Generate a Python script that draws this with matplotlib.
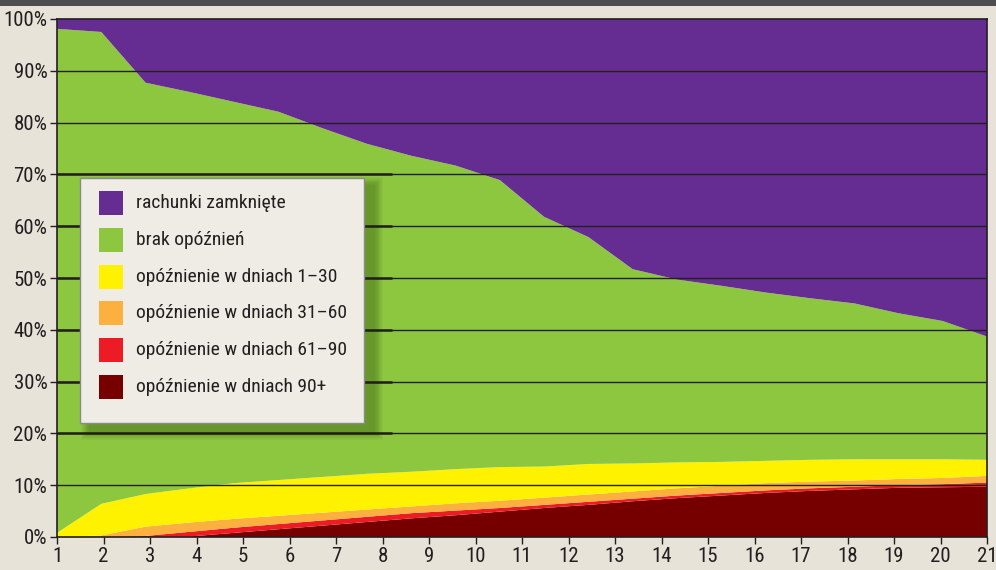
import numpy as np
import matplotlib
matplotlib.use("Agg")
import matplotlib.pyplot as plt
from matplotlib.patches import Rectangle
from matplotlib import font_manager

# ---- data: share of accounts (%) per status, 22 observations over the period ----
delay_90_plus = [0, 0, 0, 0.1, 0.8, 1.5, 2.2, 2.9, 3.6, 4.2, 4.9, 5.6, 6.2, 6.9, 7.5, 8.0,
                 8.5, 8.9, 9.2, 9.5, 9.6, 9.7]
delay_61_90 = [0, 0, 0.2, 0.9, 1.0, 1.0, 1.0, 1.0, 1.0, 0.9, 0.7, 0.6, 0.6, 0.5, 0.5, 0.5,
               0.5, 0.5, 0.5, 0.5, 0.6, 0.8]
delay_31_60 = [0, 0.3, 1.8, 1.8, 1.7, 1.6, 1.5, 1.4, 1.3, 1.4, 1.4, 1.4, 1.4, 1.4, 1.4, 1.4,
               1.4, 1.3, 1.2, 1.2, 1.2, 1.3]
delay_1_30 = [0.8, 6.1, 6.3, 6.6, 6.9, 6.9, 6.9, 6.9, 6.7, 6.6, 6.5, 6.0, 5.9, 5.4, 5.0, 4.6,
              4.3, 4.2, 4.1, 3.8, 3.6, 3.1]
no_delay = [97.3, 91.1, 79.4, 76.5, 73.6, 71.1, 67.3, 63.7, 61.0, 58.6, 55.4, 48.2, 43.8,
            37.5, 35.3, 34.0, 32.5, 31.2, 30.1, 28.2, 26.7, 23.8]
closed = [1.9, 2.5, 12.3, 14.1, 16.0, 17.9, 21.1, 24.1, 26.4, 28.3, 31.1, 38.2, 42.1, 48.3,
          50.3, 51.5, 52.8, 53.9, 54.9, 56.8, 58.3, 61.3]

x_ticks = list(range(1, 22))
y_ticks = list(range(0, 101, 10))

labels = ["rachunki zamknięte", "brak opóźnień", "opóźnienie w dniach 1–30",
          "opóźnienie w dniach 31–60", "opóźnienie w dniach 61–90", "opóźnienie w dniach 90+"]
colors = ["#652d91", "#8dc63f", "#fff200", "#fbb040", "#ed1c24", "#760000"]

# ---- fonts ----
installed = {f.name for f in font_manager.fontManager.ttflist}
families = [f for f in ["Liberation Sans Narrow", "Roboto Condensed", "Open Sans Condensed"]
            if f in installed] + ["Liberation Sans", "DejaVu Sans"]
plt.rcParams["font.family"] = families

W, H = 996, 570
ink = "#231f20"
fig = plt.figure(figsize=(W / 100, H / 100), dpi=100)
fig.patch.set_facecolor("#e7e3d9")

# dark band across the top
fig.add_artist(Rectangle((0, 1 - 6 / H), 1, 6 / H, transform=fig.transFigure,
                         facecolor="#4d4d4f", edgecolor="none"))

ax = fig.add_axes([57 / W, 33 / H, 930 / W, 518 / H])
xs = np.linspace(x_ticks[0], x_ticks[-1], len(closed))
ax.stackplot(xs, delay_90_plus, delay_61_90, delay_31_60, delay_1_30, no_delay, closed,
             colors=colors[::-1], linewidth=0, antialiased=True)

ax.set_xlim(x_ticks[0], x_ticks[-1])
ax.set_ylim(0, 100)

# horizontal grid
for v in y_ticks[1:-1]:
    ax.axhline(v, color=ink, lw=1.0, zorder=3)
x_thick = 1 + (392 - 57) / 46.5
for v in range(20, 71, 10):
    ax.plot([1, x_thick], [v, v], color=ink, lw=1.8, zorder=3, solid_capstyle="butt")

for s in ax.spines.values():
    s.set_color(ink)
    s.set_linewidth(1.2)
    s.set_zorder(4)

ax.set_xticks(x_ticks)
ax.set_yticks(y_ticks)
ax.set_yticklabels([f"{v}%" for v in y_ticks])
ax.tick_params(direction="out", length=5, width=1, color=ink, labelcolor=ink, labelsize=15)
ax.tick_params(axis="x", pad=2)
ax.tick_params(axis="y", pad=2)

# ---- legend box (pixel layout) ----
def px_rect(x0, y0, w, h, **kw):
    r = Rectangle((x0 / W, 1 - (y0 + h) / H), w / W, h / H, transform=fig.transFigure, **kw)
    fig.add_artist(r)
    return r

lx0, ly0, lw_, lh_ = 80, 178, 284, 245
# soft drop shadow
for k in range(10):
    grow = 18 - 1.8 * k
    px_rect(lx0 + 6 - grow / 2 + 4, ly0 + 6 - grow / 2 + 2, lw_ + grow, lh_ + grow,
            facecolor="#1e3a0a", edgecolor="none", alpha=0.035, zorder=5)
px_rect(lx0, ly0, lw_, lh_, facecolor="#efece5", edgecolor="#8a8a86", lw=1.0, zorder=6)

for i, (lab, col) in enumerate(zip(labels, colors)):
    cy = 203 + i * 36.8
    px_rect(99, cy - 12, 24, 24, facecolor=col, edgecolor="none", zorder=7)
    fig.text(136 / W, 1 - cy / H, lab, fontsize=14, color=ink, va="center", ha="left",
             zorder=8)

fig.savefig("out.png", dpi=100, facecolor=fig.get_facecolor())
